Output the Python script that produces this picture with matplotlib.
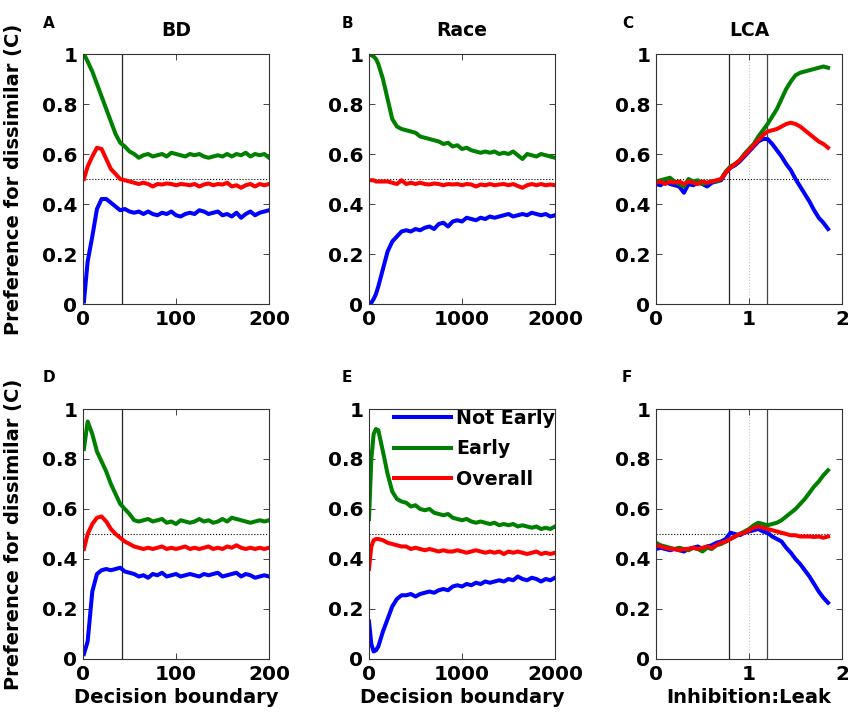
import matplotlib
matplotlib.use("Agg")
import matplotlib.pyplot as plt
import numpy as np
from matplotlib.ticker import FuncFormatter

# the source figure uses wide bold lettering; DejaVu Sans Bold is close in proportions
plt.rcParams["font.family"] = ["DejaVu Sans"]
plt.rcParams["font.weight"] = "bold"

# ---------------------------------------------------------------- data
# BD model (decision boundary 0..200)
x_bd = [1, 5, 10, 15, 20, 25, 30, 35, 40, 45, 50, 55, 60, 65, 70, 75, 80, 85, 90, 95, 100,
        105, 110, 115, 120, 125, 130, 135, 140, 145, 150, 155, 160, 165, 170, 175, 180,
        185, 190, 195, 200]

bd_top_not_early = [0.01, 0.17, 0.27, 0.38, 0.42, 0.42, 0.405, 0.39, 0.375, 0.38, 0.37,
                    0.365, 0.37, 0.36, 0.37, 0.36, 0.355, 0.365, 0.36, 0.37, 0.355, 0.35,
                    0.36, 0.365, 0.36, 0.375, 0.37, 0.36, 0.365, 0.37, 0.355, 0.36, 0.35,
                    0.365, 0.345, 0.36, 0.37, 0.355, 0.365, 0.37, 0.375]
bd_top_early = [1.0, 0.97, 0.93, 0.88, 0.83, 0.78, 0.73, 0.68, 0.645, 0.63, 0.61, 0.60,
                0.585, 0.595, 0.60, 0.59, 0.595, 0.60, 0.59, 0.605, 0.60, 0.595, 0.59, 0.60,
                0.595, 0.60, 0.59, 0.585, 0.59, 0.595, 0.59, 0.60, 0.59, 0.60, 0.595, 0.605,
                0.59, 0.60, 0.595, 0.60, 0.585]
bd_top_overall = [0.50, 0.55, 0.59, 0.625, 0.62, 0.58, 0.54, 0.52, 0.50, 0.495, 0.49,
                  0.485, 0.48, 0.485, 0.48, 0.47, 0.48, 0.478, 0.482, 0.48, 0.475, 0.48,
                  0.478, 0.475, 0.48, 0.47, 0.478, 0.482, 0.475, 0.48, 0.478, 0.485, 0.47,
                  0.475, 0.465, 0.475, 0.48, 0.47, 0.48, 0.475, 0.48]

bd_bot_not_early = [0.02, 0.07, 0.27, 0.34, 0.355, 0.36, 0.355, 0.36, 0.365, 0.35, 0.345,
                    0.34, 0.33, 0.335, 0.325, 0.34, 0.335, 0.345, 0.33, 0.335, 0.34, 0.33,
                    0.335, 0.34, 0.335, 0.33, 0.34, 0.335, 0.34, 0.345, 0.33, 0.335, 0.34,
                    0.345, 0.33, 0.34, 0.335, 0.325, 0.33, 0.335, 0.33]
bd_bot_early = [0.84, 0.95, 0.90, 0.83, 0.79, 0.75, 0.70, 0.66, 0.62, 0.60, 0.58, 0.555,
                0.55, 0.555, 0.56, 0.55, 0.555, 0.56, 0.545, 0.55, 0.54, 0.555, 0.55, 0.545,
                0.55, 0.56, 0.55, 0.555, 0.545, 0.55, 0.56, 0.55, 0.565, 0.56, 0.555, 0.55,
                0.545, 0.55, 0.555, 0.55, 0.555]
bd_bot_overall = [0.44, 0.50, 0.54, 0.565, 0.57, 0.55, 0.52, 0.50, 0.485, 0.47, 0.46,
                  0.45, 0.445, 0.44, 0.445, 0.44, 0.445, 0.45, 0.44, 0.445, 0.44, 0.445,
                  0.45, 0.44, 0.445, 0.44, 0.445, 0.45, 0.44, 0.445, 0.44, 0.45, 0.445,
                  0.455, 0.445, 0.44, 0.445, 0.44, 0.445, 0.44, 0.445]

# Race model (decision boundary 0..2000)
x_race = [0, 25, 50, 75, 100, 150, 200, 250, 300, 350, 400, 450, 500, 550, 600, 650, 700,
          750, 800, 850, 900, 950, 1000, 1050, 1100, 1150, 1200, 1250, 1300, 1350, 1400,
          1450, 1500, 1550, 1600, 1650, 1700, 1750, 1800, 1850, 1900, 1950, 2000]

race_top_not_early = [0.0, 0.005, 0.02, 0.04, 0.07, 0.14, 0.21, 0.25, 0.27, 0.29, 0.295,
                      0.29, 0.30, 0.295, 0.305, 0.31, 0.30, 0.32, 0.325, 0.31, 0.33, 0.335,
                      0.33, 0.345, 0.34, 0.335, 0.345, 0.34, 0.35, 0.345, 0.35, 0.355, 0.36,
                      0.35, 0.355, 0.36, 0.355, 0.365, 0.36, 0.355, 0.36, 0.35, 0.355]
race_top_early = [1.0, 0.995, 0.99, 0.98, 0.96, 0.90, 0.82, 0.74, 0.71, 0.70, 0.695, 0.69,
                  0.685, 0.67, 0.665, 0.66, 0.655, 0.65, 0.64, 0.645, 0.63, 0.635, 0.62,
                  0.625, 0.615, 0.61, 0.605, 0.61, 0.605, 0.61, 0.60, 0.605, 0.60, 0.61,
                  0.595, 0.58, 0.60, 0.595, 0.59, 0.60, 0.595, 0.59, 0.585]
race_top_overall = [0.495, 0.495, 0.495, 0.49, 0.49, 0.49, 0.49, 0.485, 0.48, 0.495, 0.48,
                    0.485, 0.48, 0.485, 0.48, 0.478, 0.482, 0.48, 0.475, 0.48, 0.478, 0.48,
                    0.475, 0.48, 0.478, 0.47, 0.478, 0.475, 0.48, 0.475, 0.478, 0.48, 0.475,
                    0.48, 0.472, 0.465, 0.475, 0.48, 0.475, 0.48, 0.475, 0.478, 0.475]

race_bot_not_early = [0.15, 0.06, 0.03, 0.035, 0.05, 0.11, 0.16, 0.21, 0.24, 0.255, 0.255,
                      0.26, 0.25, 0.26, 0.265, 0.27, 0.265, 0.275, 0.28, 0.275, 0.29, 0.295,
                      0.29, 0.30, 0.295, 0.305, 0.30, 0.31, 0.305, 0.31, 0.315, 0.31, 0.32,
                      0.315, 0.33, 0.32, 0.315, 0.325, 0.32, 0.31, 0.32, 0.315, 0.325]
race_bot_early = [0.56, 0.80, 0.90, 0.92, 0.915, 0.83, 0.74, 0.67, 0.64, 0.63, 0.625, 0.61,
                  0.615, 0.60, 0.595, 0.60, 0.585, 0.58, 0.575, 0.58, 0.565, 0.56, 0.555,
                  0.56, 0.55, 0.545, 0.55, 0.545, 0.54, 0.545, 0.535, 0.54, 0.535, 0.54,
                  0.53, 0.535, 0.53, 0.525, 0.53, 0.52, 0.525, 0.52, 0.53]
race_bot_overall = [0.36, 0.45, 0.475, 0.48, 0.48, 0.475, 0.465, 0.46, 0.455, 0.45, 0.45,
                    0.44, 0.445, 0.44, 0.435, 0.44, 0.435, 0.43, 0.435, 0.43, 0.43, 0.435,
                    0.43, 0.425, 0.43, 0.435, 0.43, 0.425, 0.43, 0.425, 0.43, 0.42, 0.43,
                    0.425, 0.43, 0.425, 0.42, 0.425, 0.43, 0.42, 0.425, 0.42, 0.425]

# LCA model (inhibition:leak 0..1.85)
x_lca = [0.0, 0.05, 0.1, 0.15, 0.2, 0.25, 0.3, 0.35, 0.4, 0.45, 0.5, 0.55, 0.6, 0.65, 0.7,
         0.75, 0.8, 0.85, 0.9, 0.95, 1.0, 1.05, 1.1, 1.15, 1.2, 1.25, 1.3, 1.35, 1.4, 1.45,
         1.5, 1.55, 1.6, 1.65, 1.7, 1.75, 1.8, 1.85]

lca_top_not_early = [0.48, 0.475, 0.49, 0.48, 0.475, 0.47, 0.445, 0.48, 0.475, 0.485, 0.48,
                     0.47, 0.485, 0.49, 0.495, 0.525, 0.545, 0.555, 0.57, 0.59, 0.61, 0.63,
                     0.65, 0.66, 0.66, 0.64, 0.615, 0.59, 0.56, 0.535, 0.50, 0.47, 0.44,
                     0.41, 0.375, 0.345, 0.325, 0.30]
lca_top_early = [0.49, 0.495, 0.50, 0.505, 0.49, 0.48, 0.47, 0.50, 0.49, 0.495, 0.48, 0.485,
                 0.49, 0.49, 0.50, 0.53, 0.55, 0.56, 0.575, 0.60, 0.62, 0.64, 0.67, 0.695,
                 0.72, 0.75, 0.78, 0.82, 0.86, 0.89, 0.915, 0.925, 0.93, 0.935, 0.94, 0.945,
                 0.95, 0.945]
lca_top_overall = [0.485, 0.49, 0.48, 0.49, 0.485, 0.49, 0.48, 0.49, 0.485, 0.48, 0.49,
                   0.485, 0.49, 0.495, 0.50, 0.525, 0.545, 0.56, 0.575, 0.595, 0.615, 0.635,
                   0.655, 0.675, 0.69, 0.695, 0.70, 0.71, 0.72, 0.725, 0.72, 0.71, 0.695,
                   0.68, 0.665, 0.65, 0.64, 0.625]

lca_bot_not_early = [0.44, 0.445, 0.44, 0.435, 0.44, 0.435, 0.43, 0.44, 0.445, 0.45, 0.44,
                     0.45, 0.455, 0.465, 0.47, 0.48, 0.505, 0.50, 0.495, 0.505, 0.51, 0.515,
                     0.52, 0.51, 0.505, 0.49, 0.48, 0.47, 0.445, 0.425, 0.40, 0.38, 0.355,
                     0.33, 0.30, 0.27, 0.245, 0.225]
lca_bot_early = [0.465, 0.455, 0.45, 0.445, 0.44, 0.445, 0.44, 0.435, 0.445, 0.44, 0.43,
                 0.445, 0.44, 0.455, 0.46, 0.47, 0.48, 0.49, 0.50, 0.51, 0.52, 0.535, 0.545,
                 0.54, 0.535, 0.54, 0.545, 0.555, 0.57, 0.585, 0.60, 0.62, 0.64, 0.665, 0.69,
                 0.71, 0.735, 0.755]
lca_bot_overall = [0.455, 0.45, 0.445, 0.44, 0.44, 0.435, 0.44, 0.44, 0.445, 0.44, 0.445,
                   0.45, 0.445, 0.455, 0.465, 0.47, 0.48, 0.49, 0.50, 0.505, 0.515, 0.525,
                   0.53, 0.525, 0.52, 0.515, 0.51, 0.505, 0.50, 0.495, 0.495, 0.49, 0.49,
                   0.49, 0.488, 0.49, 0.485, 0.49]

series_labels = ["Not Early", "Early", "Overall"]
series_colors = ["#0000ff", "#008000", "#ff0000"]

# ---------------------------------------------------------------- layout
W, H = 848, 714
fig = plt.figure(figsize=(W / 100, H / 100), dpi=100)

col_left = [83, 369, 656]
row_top = [54, 409]
ax_w, ax_h = 186, 250


def make_ax(col, row):
    l = col_left[col] / W
    b = 1 - (row_top[row] + ax_h) / H
    return fig.add_axes([l, b, ax_w / W, ax_h / H])


panels = [
    # (col, row, x, ys, xlim, xticks, title, letter)
    (0, 0, x_bd, (bd_top_not_early, bd_top_early, bd_top_overall), (0, 200), [0, 100, 200], "BD", "A"),
    (1, 0, x_race, (race_top_not_early, race_top_early, race_top_overall), (0, 2000), [0, 1000, 2000], "Race", "B"),
    (2, 0, x_lca, (lca_top_not_early, lca_top_early, lca_top_overall), (0, 2), [0, 1, 2], "LCA", "C"),
    (0, 1, x_bd, (bd_bot_not_early, bd_bot_early, bd_bot_overall), (0, 200), [0, 100, 200], None, "D"),
    (1, 1, x_race, (race_bot_not_early, race_bot_early, race_bot_overall), (0, 2000), [0, 1000, 2000], None, "E"),
    (2, 1, x_lca, (lca_bot_not_early, lca_bot_early, lca_bot_overall), (0, 2), [0, 1, 2], None, "F"),
]

label_x = [43, 342, 622]
label_y = [23, 378]

fmt = FuncFormatter(lambda v, p: "%g" % v)

for col, row, x, ys, xlim, xticks, title, letter in panels:
    ax = make_ax(col, row)

    # reference lines
    if col == 2:
        ax.plot([0, 1.87], [0.5, 0.5], ls=":", color="black", lw=0.8, zorder=1)
        ax.axvline(0.78, color="#222222", lw=0.9, zorder=1)
        ax.axvline(1.0, color="#c8c8c8", lw=0.8, ls=":", zorder=1)
        ax.axvline(1.19, color="#444444", lw=0.9, zorder=1)
    else:
        ax.axhline(0.5, ls=":", color="black", lw=0.8, zorder=1)
    if col == 0:
        ax.axvline(42, color="#222222", lw=0.9, zorder=1)

    for y, c, lab in zip(ys, series_colors, series_labels):
        ax.plot(x, y, color=c, lw=2.9, label=lab, zorder=2)

    ax.set_xlim(*xlim)
    ax.set_ylim(0, 1)
    ax.set_xticks(xticks)
    ax.set_yticks([0, 0.2, 0.4, 0.6, 0.8, 1.0])
    ax.xaxis.set_major_formatter(fmt)
    ax.yaxis.set_major_formatter(fmt)
    ax.tick_params(direction="in", top=True, right=True, length=4, width=0.7,
                   color="#444444", labelsize=14.5, pad=4)
    for lbl in ax.get_xticklabels() + ax.get_yticklabels():
        lbl.set_fontweight("bold")
    for sp in ax.spines.values():
        sp.set_linewidth(0.8)
        sp.set_color("#333333")

    if title:
        ax.set_title(title, fontsize=13.5, fontweight="bold", pad=13)
    if col == 0:
        ax.set_ylabel("Preference for dissimilar (C)", fontsize=14, fontweight="bold")
        ax.yaxis.set_label_coords(-0.32, 0.5)
    if row == 1:
        ax.set_xlabel("Inhibition:Leak" if col == 2 else "Decision boundary",
                      fontsize=14, fontweight="bold")
        ax.xaxis.set_label_coords(0.5, -0.115)
    if col == 1 and row == 1:
        ax.legend(loc="upper right", frameon=False, handlelength=3.0,
                  handletextpad=0.25, labelspacing=0.6, borderaxespad=0.0, borderpad=0.0,
                  prop={"weight": "bold", "size": 13.7})

    fig.text(label_x[col] / W, 1 - label_y[row] / H, letter, fontsize=11,
             fontweight="bold", ha="left", va="center")

fig.savefig("out.png", dpi=100)
